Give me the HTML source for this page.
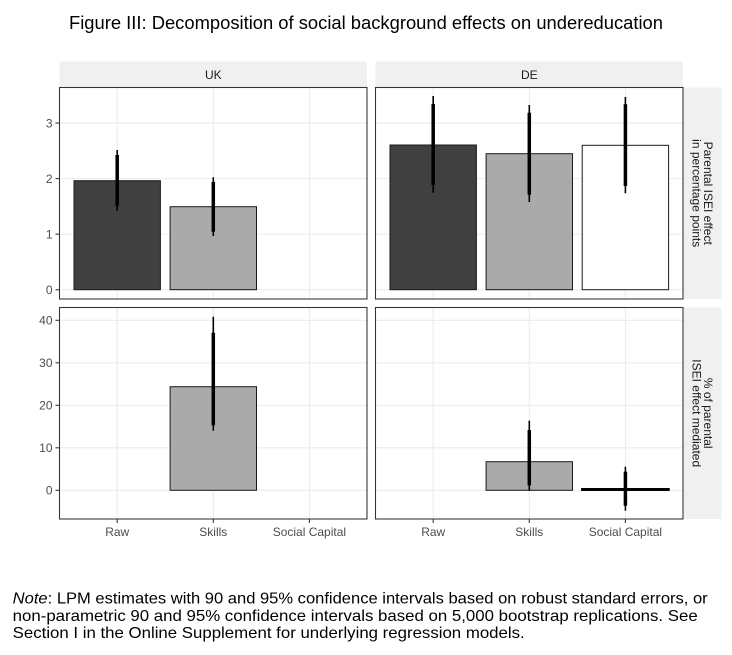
<!DOCTYPE html>
<html>
<head>
<meta charset="utf-8">
<style>
html,body{margin:0;padding:0;background:#fff;}
svg{display:block;}
text{font-family:"Liberation Sans",Arial,sans-serif;}
</style>
</head>
<body>
<svg width="732" height="655" viewBox="0 0 732 655" xmlns="http://www.w3.org/2000/svg">
<rect x="0" y="0" width="732" height="655" fill="#fff"/>

<!-- Title -->
<text x="366" y="29" font-size="18.3" text-anchor="middle" fill="#000" textLength="594" lengthAdjust="spacingAndGlyphs">Figure III: Decomposition of social background effects on undereducation</text>

<!-- Strips top -->
<rect x="59.5" y="61.5" width="307.5" height="25.5" fill="#f0f0f0"/>
<rect x="375.5" y="61.5" width="307.5" height="25.5" fill="#f0f0f0"/>
<text x="213.3" y="79" font-size="12" text-anchor="middle" fill="#1a1a1a">UK</text>
<text x="529.3" y="79" font-size="12" text-anchor="middle" fill="#1a1a1a">DE</text>

<!-- Strips right -->
<rect x="683" y="87.5" width="38.5" height="211.5" fill="#f0f0f0"/>
<rect x="683" y="307.5" width="38.5" height="211.5" fill="#f0f0f0"/>
<text transform="translate(704.2,193.2) rotate(90)" font-size="12" text-anchor="middle" fill="#1a1a1a">Parental ISEI effect</text>
<text transform="translate(692.6,193.2) rotate(90)" font-size="12" text-anchor="middle" fill="#1a1a1a">in percentage points</text>
<text transform="translate(704.2,413.2) rotate(90)" font-size="12" text-anchor="middle" fill="#1a1a1a">% of parental</text>
<text transform="translate(692.6,413.2) rotate(90)" font-size="12" text-anchor="middle" fill="#1a1a1a">ISEI effect mediated</text>

<!-- ===== Top-left panel (UK) ===== -->
<rect x="59.5" y="87.5" width="307.5" height="211.5" fill="#fff"/>
<g stroke="#ebebeb" stroke-width="1.07">
  <line x1="59.5" x2="367" y1="289.7" y2="289.7"/>
  <line x1="59.5" x2="367" y1="234.15" y2="234.15"/>
  <line x1="59.5" x2="367" y1="178.6" y2="178.6"/>
  <line x1="59.5" x2="367" y1="123.05" y2="123.05"/>
  <line x1="117.2" x2="117.2" y1="87.5" y2="299"/>
  <line x1="213.3" x2="213.3" y1="87.5" y2="299"/>
  <line x1="309.4" x2="309.4" y1="87.5" y2="299"/>
</g>
<rect x="74" y="180.7" width="86.4" height="109" fill="#404040" stroke="#1a1a1a" stroke-width="1"/>
<rect x="170.1" y="206.7" width="86.4" height="83" fill="#aaaaaa" stroke="#1a1a1a" stroke-width="1"/>
<g stroke="#000">
  <line x1="117.2" x2="117.2" y1="150" y2="210.7" stroke-width="1.6"/>
  <line x1="117.2" x2="117.2" y1="155" y2="206" stroke-width="3.5"/>
  <line x1="213.3" x2="213.3" y1="177.3" y2="236" stroke-width="1.6"/>
  <line x1="213.3" x2="213.3" y1="182" y2="231.7" stroke-width="3.5"/>
</g>
<rect x="59.5" y="87.5" width="307.5" height="211.5" fill="none" stroke="#333" stroke-width="1.07"/>

<!-- ===== Top-right panel (DE) ===== -->
<rect x="375.5" y="87.5" width="307.5" height="211.5" fill="#fff"/>
<g stroke="#ebebeb" stroke-width="1.07">
  <line x1="375.5" x2="683" y1="289.7" y2="289.7"/>
  <line x1="375.5" x2="683" y1="234.15" y2="234.15"/>
  <line x1="375.5" x2="683" y1="178.6" y2="178.6"/>
  <line x1="375.5" x2="683" y1="123.05" y2="123.05"/>
  <line x1="433.2" x2="433.2" y1="87.5" y2="299"/>
  <line x1="529.3" x2="529.3" y1="87.5" y2="299"/>
  <line x1="625.4" x2="625.4" y1="87.5" y2="299"/>
</g>
<rect x="390" y="145" width="86.4" height="144.7" fill="#404040" stroke="#1a1a1a" stroke-width="1"/>
<rect x="486.1" y="153.7" width="86.4" height="136" fill="#aaaaaa" stroke="#1a1a1a" stroke-width="1"/>
<rect x="582.2" y="145.3" width="86.4" height="144.4" fill="#ffffff" stroke="#1a1a1a" stroke-width="1"/>
<g stroke="#000">
  <line x1="433.2" x2="433.2" y1="96" y2="192.7" stroke-width="1.6"/>
  <line x1="433.2" x2="433.2" y1="104" y2="185" stroke-width="3.5"/>
  <line x1="529.3" x2="529.3" y1="105" y2="202" stroke-width="1.6"/>
  <line x1="529.3" x2="529.3" y1="112.7" y2="194.7" stroke-width="3.5"/>
  <line x1="625.4" x2="625.4" y1="97" y2="193.3" stroke-width="1.6"/>
  <line x1="625.4" x2="625.4" y1="104.3" y2="186" stroke-width="3.5"/>
</g>
<rect x="375.5" y="87.5" width="307.5" height="211.5" fill="none" stroke="#333" stroke-width="1.07"/>

<!-- ===== Bottom-left panel (UK) ===== -->
<rect x="59.5" y="307.5" width="307.5" height="211.5" fill="#fff"/>
<g stroke="#ebebeb" stroke-width="1.07">
  <line x1="59.5" x2="367" y1="490.3" y2="490.3"/>
  <line x1="59.5" x2="367" y1="447.8" y2="447.8"/>
  <line x1="59.5" x2="367" y1="405.3" y2="405.3"/>
  <line x1="59.5" x2="367" y1="362.8" y2="362.8"/>
  <line x1="59.5" x2="367" y1="320.3" y2="320.3"/>
  <line x1="117.2" x2="117.2" y1="307.5" y2="519"/>
  <line x1="213.3" x2="213.3" y1="307.5" y2="519"/>
  <line x1="309.4" x2="309.4" y1="307.5" y2="519"/>
</g>
<rect x="170.1" y="386.7" width="86.4" height="103.6" fill="#aaaaaa" stroke="#1a1a1a" stroke-width="1"/>
<g stroke="#000">
  <line x1="213.3" x2="213.3" y1="316.7" y2="430.7" stroke-width="1.6"/>
  <line x1="213.3" x2="213.3" y1="332.7" y2="425.3" stroke-width="3.5"/>
</g>
<rect x="59.5" y="307.5" width="307.5" height="211.5" fill="none" stroke="#333" stroke-width="1.07"/>

<!-- ===== Bottom-right panel (DE) ===== -->
<rect x="375.5" y="307.5" width="307.5" height="211.5" fill="#fff"/>
<g stroke="#ebebeb" stroke-width="1.07">
  <line x1="375.5" x2="683" y1="490.3" y2="490.3"/>
  <line x1="375.5" x2="683" y1="447.8" y2="447.8"/>
  <line x1="375.5" x2="683" y1="405.3" y2="405.3"/>
  <line x1="375.5" x2="683" y1="362.8" y2="362.8"/>
  <line x1="375.5" x2="683" y1="320.3" y2="320.3"/>
  <line x1="433.2" x2="433.2" y1="307.5" y2="519"/>
  <line x1="529.3" x2="529.3" y1="307.5" y2="519"/>
  <line x1="625.4" x2="625.4" y1="307.5" y2="519"/>
</g>
<rect x="486.1" y="461.7" width="86.4" height="28.6" fill="#aaaaaa" stroke="#1a1a1a" stroke-width="1"/>
<rect x="582.2" y="489.1" width="86.4" height="0.8" fill="#000" stroke="#000" stroke-width="2.2"/>
<g stroke="#000">
  <line x1="529.3" x2="529.3" y1="420.7" y2="490.7" stroke-width="1.6"/>
  <line x1="529.3" x2="529.3" y1="430" y2="485.3" stroke-width="3.5"/>
  <line x1="625.4" x2="625.4" y1="466.7" y2="510.7" stroke-width="1.6"/>
  <line x1="625.4" x2="625.4" y1="471.7" y2="505.7" stroke-width="3.5"/>
</g>
<rect x="375.5" y="307.5" width="307.5" height="211.5" fill="none" stroke="#333" stroke-width="1.07"/>

<!-- Y axis ticks top -->
<g stroke="#333" stroke-width="1.07">
  <line x1="55.5" x2="59.5" y1="289.7" y2="289.7"/>
  <line x1="55.5" x2="59.5" y1="234.15" y2="234.15"/>
  <line x1="55.5" x2="59.5" y1="178.6" y2="178.6"/>
  <line x1="55.5" x2="59.5" y1="123.05" y2="123.05"/>
  <line x1="55.5" x2="59.5" y1="490.3" y2="490.3"/>
  <line x1="55.5" x2="59.5" y1="447.8" y2="447.8"/>
  <line x1="55.5" x2="59.5" y1="405.3" y2="405.3"/>
  <line x1="55.5" x2="59.5" y1="362.8" y2="362.8"/>
  <line x1="55.5" x2="59.5" y1="320.3" y2="320.3"/>
  <!-- x ticks -->
  <line x1="117.2" x2="117.2" y1="519" y2="523"/>
  <line x1="213.3" x2="213.3" y1="519" y2="523"/>
  <line x1="309.4" x2="309.4" y1="519" y2="523"/>
  <line x1="433.2" x2="433.2" y1="519" y2="523"/>
  <line x1="529.3" x2="529.3" y1="519" y2="523"/>
  <line x1="625.4" x2="625.4" y1="519" y2="523"/>
</g>
<g font-size="12" fill="#4d4d4d" text-anchor="end">
  <text x="52.5" y="294">0</text>
  <text x="52.5" y="238.4">1</text>
  <text x="52.5" y="182.9">2</text>
  <text x="52.5" y="127.3">3</text>
  <text x="52.5" y="494.6">0</text>
  <text x="52.5" y="452.1">10</text>
  <text x="52.5" y="409.6">20</text>
  <text x="52.5" y="367.1">30</text>
  <text x="52.5" y="324.6">40</text>
</g>
<g font-size="12" fill="#4d4d4d" text-anchor="middle">
  <text x="117.2" y="536">Raw</text>
  <text x="213.3" y="536">Skills</text>
  <text x="309.4" y="536">Social Capital</text>
  <text x="433.2" y="536">Raw</text>
  <text x="529.3" y="536">Skills</text>
  <text x="625.4" y="536">Social Capital</text>
</g>

<!-- Note -->
<g font-size="15.8" fill="#000">
  <text x="12.7" y="603.7" textLength="695" lengthAdjust="spacingAndGlyphs"><tspan font-style="italic">Note</tspan>: LPM estimates with 90 and 95% confidence intervals based on robust standard errors, or</text>
  <text x="12.7" y="621" textLength="685" lengthAdjust="spacingAndGlyphs">non-parametric 90 and 95% confidence intervals based on 5,000 bootstrap replications. See</text>
  <text x="12.7" y="638" textLength="512" lengthAdjust="spacingAndGlyphs">Section I in the Online Supplement for underlying regression models.</text>
</g>
</svg>
</body>
</html>
